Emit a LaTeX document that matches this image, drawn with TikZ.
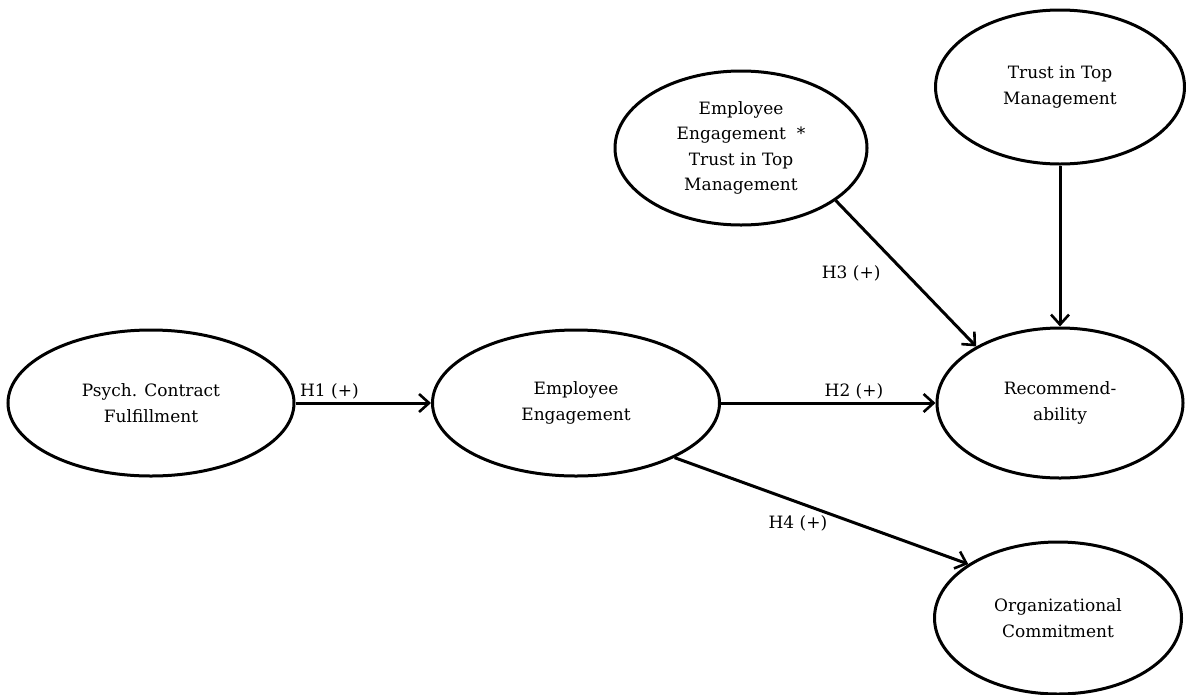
\documentclass[tikz,border=0pt]{standalone}
\usepackage{fontspec}
\setmainfont{DejaVu Serif}
\usetikzlibrary{shapes.geometric,arrows.meta}
\begin{document}
\begin{tikzpicture}[x=1pt,y=-1pt,
  construct/.style={draw, ellipse, line width=3pt, inner sep=0pt, align=center,
     font=\fontsize{17}{25.5}\selectfont},
  link/.style={line width=3pt, -{Straight Barb[length=10pt,width=18pt,line width=2.6pt]}},
  hyp/.style={font=\fontsize{17}{20}\selectfont, inner sep=2pt}]
\useasboundingbox (0,0) rectangle (1186,694);
\fill[white] (0,0) rectangle (1186,694);
\node[construct, minimum width=286pt, minimum height=146pt] (pcf) at (151,403) {Psych. Contract\\Fulfillment};
\node[construct, minimum width=287pt, minimum height=146pt] (ee) at (576,403) {Employee\\Engagement};
\node[construct, minimum width=246pt, minimum height=150pt] (rec) at (1060,403) {Recommend-\\ability};
\node[construct, minimum width=247pt, minimum height=152pt] (oc) at (1058,618) {Organizational\\Commitment};
\node[construct, minimum width=252pt, minimum height=154pt] (eet) at (741,148) {Employee\\Engagement\ \ *\\Trust in Top\\Management};
\node[construct, minimum width=249pt, minimum height=154pt] (ttm) at (1060,87) {Trust in Top\\Management};
\draw[link] (pcf) -- node[hyp, pos=0.25, above] {H1 (+)} (ee);
\draw[link] (ee) -- node[hyp, pos=0.62, above] {H2 (+)} (rec);
\draw[link] (eet.-29.5) -- node[hyp, pos=0.5, anchor=east, xshift=-22pt] {H3 (+)} (rec.146);
\draw[link] (ttm.south) -- (rec.north);
\draw[link] (ee.-29.4) -- node[hyp, pos=0.42, anchor=north, yshift=-10pt] {H4 (+)} (oc.149.5);
\end{tikzpicture}
\end{document}
